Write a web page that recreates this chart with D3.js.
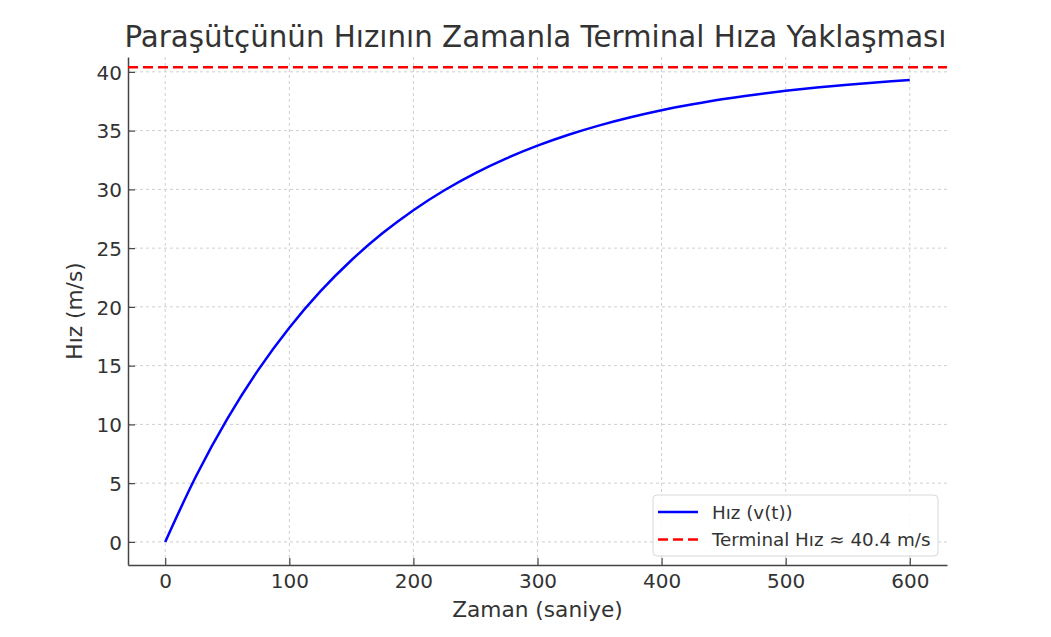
<!DOCTYPE html>
<html>
<head>
<meta charset="utf-8">
<script src="https://cdn.jsdelivr.net/npm/d3@7"></script>
<style>
  body { margin: 0; background: #fff; }
  svg text { font-family: "DejaVu Sans", sans-serif; fill: #333; }
</style>
</head>
<body>
<svg id="chart"></svg>
<script>
let width = 1051;
let height = 637;
let margin = {"top": 57, "bottom": 72, "left": 128, "right": 104};

// zaman (s) ve hız (m/s)
const times = [0, 25, 50, 75, 100, 125, 150, 175, 200, 225, 250, 275, 300,
    325, 350, 375, 400, 425, 450, 475, 500, 525, 550, 575, 600];
const speeds = [0, 5.63, 10.47, 14.64, 18.23, 21.32, 23.97, 26.26, 28.23, 29.93, 31.39, 32.64, 33.72,
    34.65, 35.45, 36.14, 36.74, 37.24, 37.69, 38.06, 38.39, 38.67, 38.91, 39.12, 39.30];
const terminalSpeed = 40.4;
const xTicks = [0, 100, 200, 300, 400, 500, 600];
const yTicks = [0, 5, 10, 15, 20, 25, 30, 35, 40];
const legendLabels = ["Hız (v(t))", "Terminal Hız ≈ 40.4 m/s"];

let svg = d3.select("#chart")
    .attr("width", width)
    .attr("height", height);

let plotW = width - margin.left - margin.right;
let plotH = height - margin.top - margin.bottom;

let g = svg.append("g")
    .attr("transform", `translate(${margin.left}, ${margin.top})`);

let x = d3.scaleLinear().domain([-30, 630]).range([0, plotW]);
let y = d3.scaleLinear().domain([-1.965, 41.265]).range([plotH, 0]);

// grid
g.selectAll("line.gx").data(xTicks)
    .enter().append("line")
    .attr("x1", (d) => x(d)).attr("x2", (d) => x(d))
    .attr("y1", 0).attr("y2", plotH)
    .style("stroke", "#cfcfcf").style("stroke-width", 1)
    .style("stroke-dasharray", "3,3");
g.selectAll("line.gy").data(yTicks)
    .enter().append("line")
    .attr("y1", (d) => y(d)).attr("y2", (d) => y(d))
    .attr("x1", 0).attr("x2", plotW)
    .style("stroke", "#cfcfcf").style("stroke-width", 1)
    .style("stroke-dasharray", "3,3");

// axes, ticks inward
let xAxis = g.append("g")
    .attr("transform", `translate(0, ${plotH})`)
    .call(d3.axisBottom(x).tickValues(xTicks).tickSizeInner(-7).tickSizeOuter(0).tickPadding(9));
let yAxis = g.append("g")
    .call(d3.axisLeft(y).tickValues(yTicks).tickSizeInner(-7).tickSizeOuter(0).tickPadding(6));
[xAxis, yAxis].forEach(function(a){
    a.select(".domain").style("stroke", "#444").style("stroke-width", 1.5);
    a.selectAll(".tick line").style("stroke", "#444").style("stroke-width", 1.2);
    a.selectAll(".tick text")
        .style("font-size", "20px")
        .style("font-family", "DejaVu Sans, sans-serif")
        .style("fill", "#333");
});
yAxis.selectAll(".tick text").attr("dy", "0.36em");

// terminal line
g.append("line")
    .attr("x1", 0).attr("x2", plotW)
    .attr("y1", y(terminalSpeed)).attr("y2", y(terminalSpeed))
    .style("stroke", "#ff0000").style("stroke-width", 2.5)
    .style("stroke-dasharray", "10,5");

// speed curve
let line = d3.line()
    .x((d, i) => x(times[i]))
    .y((d) => y(d))
    .curve(d3.curveCatmullRom);
g.append("path")
    .datum(speeds)
    .attr("d", line)
    .style("fill", "none")
    .style("stroke", "#0000ff")
    .style("stroke-width", 2.5);

// title and labels
svg.append("text")
    .attr("x", margin.left + plotW / 2 - 2)
    .attr("y", 47)
    .style("text-anchor", "middle")
    .style("font-size", "29.3px")
    .text("Paraşütçünün Hızının Zamanla Terminal Hıza Yaklaşması");
svg.append("text")
    .attr("x", margin.left + plotW / 2)
    .attr("y", 617)
    .style("text-anchor", "middle")
    .style("font-size", "21.7px")
    .text("Zaman (saniye)");
svg.append("text")
    .attr("transform", `translate(82, ${margin.top + plotH / 2}) rotate(-90)`)
    .style("text-anchor", "middle")
    .style("font-size", "21.7px")
    .text("Hız (m/s)");

// legend
let legend = svg.append("g").attr("transform", "translate(653, 495)");
legend.append("rect")
    .attr("width", 285).attr("height", 61)
    .attr("rx", 4)
    .style("fill", "#fff").style("fill-opacity", 0.85)
    .style("stroke", "#d8d8d8").style("stroke-width", 1);
let items = legend.selectAll("g.item").data(legendLabels)
    .enter().append("g")
    .attr("transform", (d, i) => `translate(0, ${17 + i * 27.5})`);
items.append("line")
    .attr("x1", 5).attr("x2", 45)
    .style("stroke", (d, i) => i == 0 ? "#0000ff" : "#ff0000")
    .style("stroke-width", 2.5)
    .style("stroke-dasharray", (d, i) => i == 0 ? null : "10,5");
items.append("text")
    .attr("x", 59)
    .attr("dy", "0.36em")
    .style("font-size", "18.3px")
    .text((d) => d);
</script>
</body>
</html>
